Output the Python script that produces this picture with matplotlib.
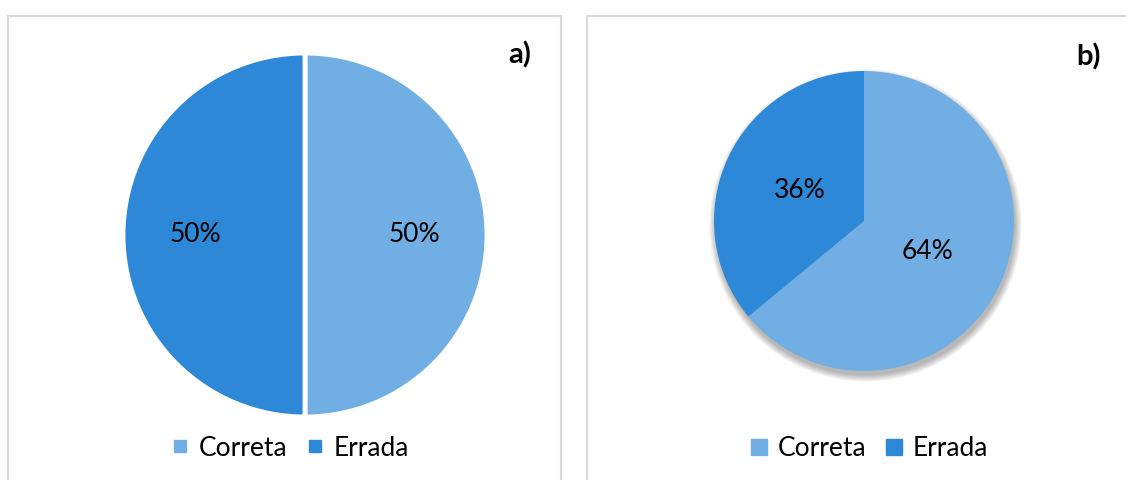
import matplotlib

matplotlib.use("Agg")
import matplotlib.pyplot as plt
from matplotlib.lines import Line2D
from matplotlib.patches import Circle, Rectangle

plt.rcParams["font.family"] = ["Lato", "DejaVu Sans"]

labels = ["Correta", "Errada"]
values_a = [50, 50]
values_b = [64, 36]
panel_tags = ["a)", "b)"]
colors = ["#71AEE4", "#2D88D8"]

W, H = 1126, 480
fig = plt.figure(figsize=(W / 100, H / 100), dpi=100)


def px_axes(cx, cy, r):
    """Axes centred on pixel (cx, cy) with radius r in pixels; data radius = 1."""
    ax = fig.add_axes([(cx - r) / W, 1 - (cy + r) / H, 2 * r / W, 2 * r / H])
    ax.axis("off")
    return ax


def fix_limits(ax):
    ax.set_xlim(-1, 1)
    ax.set_ylim(-1, 1)
    ax.set_aspect("equal")


# panel borders
for x0, x1 in [(8, 561), (587, 1140)]:
    fig.patches.append(Rectangle((x0 / W, -0.05), (x1 - x0) / W, 1.05 - 16 / H,
                                 transform=fig.transFigure, fill=False,
                                 edgecolor="#d9d9d9", linewidth=1.5))

# panel a
ax_a = px_axes(305, 235, 182)
ax_a.pie(values_a, colors=colors, startangle=90, counterclock=False, radius=1,
         wedgeprops=dict(edgecolor="white", linewidth=3.5),
         autopct="%d%%", pctdistance=0.6,
         textprops=dict(fontsize=19, color="black"))
fix_limits(ax_a)

# panel b (with soft shadow)
ax_b = px_axes(864, 221, 150)
for i in range(6):
    ax_b.add_patch(Circle((0.01, -0.03), 1.0 + 0.008 * i, color="black",
                          alpha=0.05, zorder=0, linewidth=0, clip_on=False))
ax_b.pie(values_b, colors=colors, startangle=90, counterclock=False, radius=1,
         autopct="%d%%", pctdistance=0.47,
         textprops=dict(fontsize=19, color="black"))
fix_limits(ax_b)

fig.text(520 / W, 1 - 55 / H, panel_tags[0], fontsize=21, fontweight="bold",
         ha="center", va="center")
fig.text(1089 / W, 1 - 57 / H, panel_tags[1], fontsize=21, fontweight="bold",
         ha="center", va="center")

for cx, cy, ms in [(290, 448, 8), (869, 449, 11.5)]:
    handles = [Line2D([], [], marker="s", linestyle="none", markersize=ms,
                      markerfacecolor=c, markeredgecolor=c) for c in colors]
    fig.legend(handles, labels, loc="center", bbox_to_anchor=(cx / W, 1 - cy / H),
               ncol=2, frameon=False, fontsize=19, handlelength=0.7,
               handletextpad=0.35, columnspacing=0.7)

fig.savefig("out.png", dpi=100)
